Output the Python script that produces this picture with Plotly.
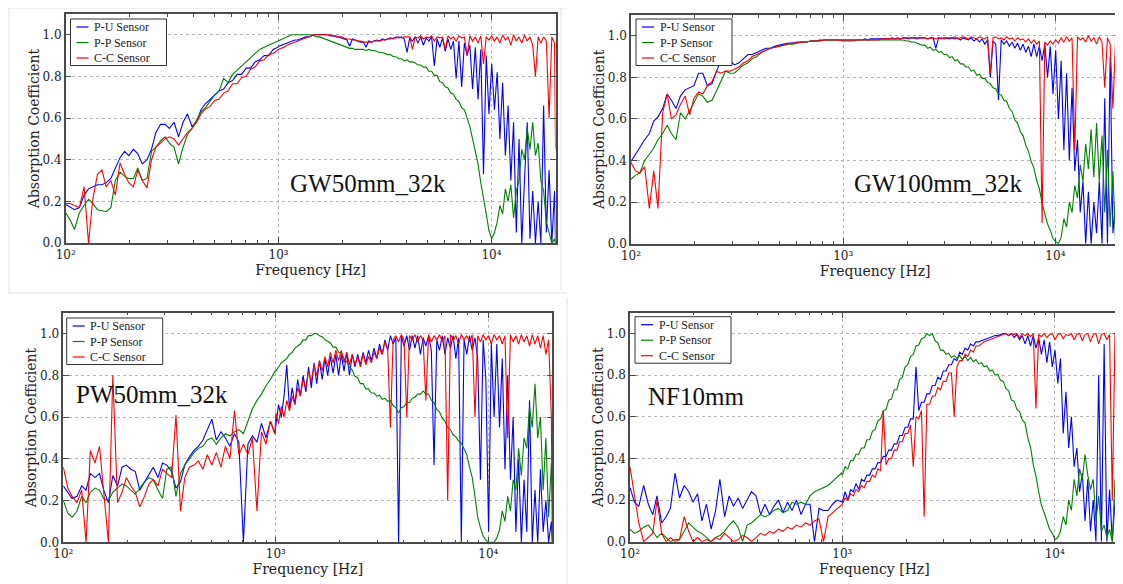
import plotly.graph_objects as go

# The page body keeps its default 8px margin, so the figure is drawn 8px in
# from the window corner; all pixel positions below are window pixels.
WIN_W, WIN_H, OFF = 1123, 584, 8
W, H = WIN_W - OFF, WIN_H - OFF

# ---------------- data ----------------
FREQ_HZ = [
    100, 105, 110, 116, 122, 128, 134, 141, 148, 155,
    163, 171, 180, 189, 198, 208, 218, 229, 241, 253,
    265, 279, 293, 307, 323, 339, 356, 373, 392, 412,
    432, 454, 476, 500, 525, 552, 579, 608, 639, 670,
    704, 739, 776, 815, 856, 899, 943, 991,
    1000, 1030, 1061, 1093, 1126, 1159, 1194, 1230, 1267, 1305,
    1344, 1384, 1426, 1469, 1513, 1558, 1605, 1653, 1702, 1754,
    1806, 1860, 1916, 1974, 2033, 2094, 2157, 2221, 2288, 2357,
    2427, 2500, 2575, 2652, 2732, 2814, 2898, 2985, 3075, 3167,
    3262, 3360, 3461, 3565, 3671, 3782, 3895, 4012, 4132, 4256,
    4384, 4515, 4651, 4790, 4934, 5082, 5235, 5392, 5553, 5720,
    5892, 6068, 6250, 6438, 6631, 6830, 7035, 7246, 7463, 7687,
    7918, 8155, 8400, 8652, 8912, 9179, 9454, 9738, 10030, 10331,
    10641, 10960, 11289, 11628, 11976, 12336, 12706, 13087, 13480, 13884,
    14300, 14730, 15171, 15627, 16095, 16578, 17076, 17588, 18115, 18659,
    19218, 19795, 20000]

SERIES_NAMES = ["P-U Sensor", "P-P Sensor", "C-C Sensor"]
PANEL_LABELS = ["GW50mm_32k", "GW100mm_32k", "PW50mm_32k", "NF10mm"]

GW50_PU = [
    0.185, 0.17, 0.16, 0.17, 0.23, 0.26, 0.27, 0.28, 0.28, 0.29,
    0.31, 0.36, 0.41, 0.44, 0.42, 0.45, 0.43, 0.38, 0.40, 0.45,
    0.53, 0.57, 0.57, 0.55, 0.58, 0.51, 0.58, 0.62, 0.56, 0.58,
    0.64, 0.67, 0.69, 0.71, 0.73, 0.74, 0.77, 0.78, 0.81, 0.81,
    0.84, 0.84, 0.87, 0.88, 0.90, 0.90, 0.93, 0.94,
    0.945, 0.95, 0.955, 0.96, 0.965, 0.97, 0.975, 0.975, 0.98, 0.985,
    0.99, 0.99, 0.995, 1.0, 1.0, 1.0, 1.0, 1.0, 1.0, 0.995,
    0.995, 0.99, 0.99, 0.985, 0.98, 0.975, 0.945, 0.98, 0.975, 0.97,
    0.965, 0.965, 0.94, 0.97, 0.965, 0.97, 0.975, 0.97, 0.98, 0.975,
    0.98, 0.985, 0.98, 0.99, 0.985, 0.99, 0.98, 0.915, 0.985, 0.97,
    0.99, 0.96, 0.99, 0.95, 0.985, 0.97, 0.99, 0.85, 0.98, 0.94,
    0.985, 0.92, 0.98, 0.93, 0.97, 0.79, 0.97, 0.75, 0.96, 0.90,
    0.95, 0.74, 0.94, 0.69, 0.93, 0.33, 0.90, 0.62, 0.86, 0.64,
    0.82, 0.50, 0.77, 0.42, 0.66, 0.30, 0.58, 0.05, 0.50, 0.0,
    0.30, 0.58, 0.02, 0.25, 0.0, 0.20, 0.0, 0.66, 0.05, 0.35,
    0.0, 0.25, 0.0]
GW50_PP = [
    0.145, 0.11, 0.065, 0.145, 0.18, 0.21, 0.19, 0.16, 0.155, 0.15,
    0.17, 0.30, 0.34, 0.32, 0.31, 0.31, 0.36, 0.30, 0.31, 0.44,
    0.46, 0.49, 0.51, 0.48, 0.46, 0.38, 0.46, 0.52, 0.55, 0.59,
    0.63, 0.65, 0.68, 0.71, 0.73, 0.79, 0.77, 0.81, 0.83, 0.85,
    0.87, 0.89, 0.91, 0.93, 0.94, 0.95, 0.96, 0.97,
    0.97, 0.98, 0.985, 0.99, 0.995, 1.0, 1.0, 1.0, 1.0, 1.0,
    1.0, 1.0, 1.0, 0.995, 0.99, 0.99, 0.985, 0.98, 0.975, 0.97,
    0.965, 0.96, 0.955, 0.95, 0.945, 0.94, 0.935, 0.935, 0.93, 0.93,
    0.93, 0.93, 0.925, 0.93, 0.925, 0.925, 0.92, 0.915, 0.915, 0.91,
    0.905, 0.905, 0.895, 0.895, 0.885, 0.885, 0.875, 0.88, 0.87, 0.87,
    0.865, 0.855, 0.855, 0.845, 0.845, 0.825, 0.825, 0.805, 0.805, 0.775,
    0.77, 0.75, 0.745, 0.72, 0.715, 0.69, 0.68, 0.65, 0.64, 0.60,
    0.56, 0.50, 0.44, 0.38, 0.29, 0.22, 0.14, 0.06, 0.02, 0.05,
    0.10, 0.18, 0.14, 0.26, 0.20, 0.28, 0.12, 0.25, 0.30, 0.45,
    0.40, 0.55, 0.45, 0.58, 0.42, 0.48, 0.30, 0.25, 0.10, 0.05,
    0.0, 0.02, 0.0]
GW50_CC = [
    0.19, 0.19, 0.18, 0.17, 0.27, 0.0, 0.21, 0.33, 0.35, 0.27,
    0.30, 0.23, 0.385, 0.33, 0.29, 0.27, 0.35, 0.30, 0.265, 0.40,
    0.46, 0.48, 0.50, 0.51, 0.50, 0.47, 0.50, 0.53, 0.55, 0.58,
    0.62, 0.645, 0.655, 0.685, 0.69, 0.72, 0.73, 0.765, 0.765, 0.795,
    0.80, 0.835, 0.845, 0.875, 0.88, 0.905, 0.91, 0.93,
    0.93, 0.935, 0.94, 0.95, 0.955, 0.96, 0.965, 0.97, 0.975, 0.98,
    0.985, 0.99, 0.995, 1.0, 1.0, 1.0, 1.0, 1.0, 1.0, 1.0,
    0.995, 0.995, 0.99, 0.99, 0.985, 0.98, 0.98, 0.975, 0.975, 0.97,
    0.97, 0.965, 0.965, 0.965, 0.965, 0.97, 0.97, 0.97, 0.975, 0.975,
    0.98, 0.98, 0.985, 0.985, 0.99, 0.985, 0.99, 0.99, 0.99, 0.93,
    0.99, 0.985, 0.995, 0.98, 0.99, 0.985, 0.995, 0.97, 0.99, 0.985,
    0.99, 0.93, 0.995, 0.98, 0.99, 0.97, 0.995, 0.985, 0.99, 0.90,
    0.995, 0.97, 0.99, 0.96, 0.995, 0.86, 0.99, 0.975, 0.995, 0.97,
    0.99, 0.96, 1.0, 0.975, 0.99, 0.95, 1.0, 0.97, 0.99, 0.96,
    1.0, 0.97, 0.99, 0.95, 0.80, 0.99, 0.96, 0.99, 0.97, 0.60,
    0.99, 0.96, 0.45]

GW100_PU = [
    0.395, 0.43, 0.46, 0.50, 0.53, 0.59, 0.61, 0.65, 0.72, 0.69,
    0.65, 0.71, 0.74, 0.75, 0.76, 0.82, 0.82, 0.76, 0.77, 0.83,
    0.88, 0.89, 0.88, 0.86, 0.87, 0.89, 0.91, 0.91, 0.92, 0.93,
    0.94, 0.94, 0.95, 0.955, 0.96, 0.965, 0.965, 0.97, 0.97, 0.97,
    0.975, 0.975, 0.98, 0.98, 0.98, 0.98, 0.98, 0.98,
    0.98, 0.98, 0.98, 0.98, 0.98, 0.98, 0.98, 0.98, 0.985, 0.98,
    0.985, 0.985, 0.985, 0.985, 0.985, 0.985, 0.985, 0.985, 0.99, 0.985,
    0.99, 0.985, 0.99, 0.99, 0.985, 0.99, 0.99, 0.985, 0.99, 0.99,
    0.99, 0.985, 0.99, 0.99, 0.94, 0.99, 0.985, 0.99, 0.99, 0.985,
    0.99, 0.985, 0.99, 0.98, 0.99, 0.985, 0.98, 0.99, 0.975, 0.985,
    0.97, 0.985, 0.96, 0.98, 0.80, 0.975, 0.96, 0.69, 0.98, 0.96,
    0.975, 0.95, 0.97, 0.94, 0.965, 0.93, 0.96, 0.92, 0.95, 0.90,
    0.96, 0.90, 0.95, 0.88, 0.96, 0.80, 0.95, 0.72, 0.93, 0.60,
    0.88, 0.45, 0.82, 0.40, 0.75, 0.35, 0.50, 0.15, 0.30, 0.0,
    0.25, 0.0, 0.20, 0.05, 0.30, 0.0, 0.70, 0.0, 0.90, 0.05,
    0.20, 0.0, 0.15]
GW100_PP = [
    0.31, 0.33, 0.34, 0.40, 0.43, 0.46, 0.50, 0.53, 0.57, 0.53,
    0.50, 0.63, 0.60, 0.64, 0.68, 0.72, 0.71, 0.68, 0.69, 0.74,
    0.78, 0.83, 0.82, 0.82, 0.84, 0.86, 0.87, 0.89, 0.90, 0.92,
    0.93, 0.94, 0.945, 0.95, 0.955, 0.96, 0.96, 0.965, 0.97, 0.97,
    0.975, 0.975, 0.975, 0.98, 0.98, 0.98, 0.98, 0.98,
    0.98, 0.98, 0.98, 0.98, 0.98, 0.98, 0.98, 0.98, 0.98, 0.98,
    0.98, 0.98, 0.98, 0.98, 0.98, 0.98, 0.98, 0.98, 0.98, 0.98,
    0.98, 0.98, 0.98, 0.975, 0.975, 0.97, 0.97, 0.965, 0.96, 0.955,
    0.955, 0.94, 0.945, 0.93, 0.935, 0.92, 0.925, 0.91, 0.91, 0.895,
    0.90, 0.88, 0.885, 0.865, 0.865, 0.85, 0.85, 0.83, 0.835, 0.81,
    0.815, 0.795, 0.795, 0.775, 0.77, 0.75, 0.745, 0.72, 0.715, 0.69,
    0.685, 0.65, 0.635, 0.595, 0.58, 0.54, 0.52, 0.475, 0.445, 0.395,
    0.365, 0.305, 0.265, 0.195, 0.145, 0.095, 0.065, 0.025, 0.01, 0.0,
    0.03, 0.12, 0.08, 0.20, 0.15, 0.28, 0.22, 0.38, 0.30, 0.48,
    0.36, 0.55, 0.32, 0.58, 0.30, 0.52, 0.15, 0.45, 0.08, 0.35,
    0.0, 0.28, 0.05]
GW100_CC = [
    0.39, 0.35, 0.34, 0.37, 0.17, 0.35, 0.17, 0.63, 0.72, 0.60,
    0.62, 0.67, 0.71, 0.62, 0.70, 0.73, 0.72, 0.76, 0.78, 0.83,
    0.82, 0.83, 0.83, 0.84, 0.85, 0.87, 0.88, 0.90, 0.91, 0.92,
    0.93, 0.94, 0.945, 0.95, 0.955, 0.96, 0.965, 0.965, 0.97, 0.97,
    0.975, 0.975, 0.975, 0.98, 0.98, 0.98, 0.98, 0.975,
    0.975, 0.975, 0.975, 0.975, 0.975, 0.98, 0.98, 0.98, 0.98, 0.98,
    0.98, 0.98, 0.98, 0.98, 0.985, 0.985, 0.985, 0.985, 0.985, 0.985,
    0.985, 0.985, 0.99, 0.99, 0.99, 0.99, 0.99, 0.99, 0.99, 0.99,
    0.99, 0.985, 0.99, 0.99, 0.985, 0.99, 0.99, 0.985, 0.99, 0.99,
    0.99, 0.995, 0.985, 0.99, 0.995, 0.99, 0.985, 0.995, 0.99, 0.985,
    0.995, 0.99, 0.985, 0.995, 0.82, 0.99, 0.995, 0.985, 0.99, 0.98,
    0.995, 0.985, 0.99, 0.975, 0.99, 0.98, 0.985, 0.97, 0.985, 0.965,
    0.98, 0.96, 0.975, 0.10, 0.97, 0.955, 0.975, 0.96, 0.98, 0.965,
    0.99, 0.97, 0.995, 0.975, 0.99, 0.45, 0.995, 0.98, 0.99, 0.97,
    1.0, 0.975, 0.99, 0.96, 0.995, 0.97, 0.75, 0.99, 0.96, 0.65,
    0.99, 0.97, 0.99]

PW50_PU = [
    0.27, 0.24, 0.21, 0.22, 0.27, 0.25, 0.33, 0.31, 0.33, 0.25,
    0.19, 0.32, 0.27, 0.36, 0.37, 0.35, 0.34, 0.25, 0.29, 0.33,
    0.36, 0.31, 0.38, 0.37, 0.34, 0.26, 0.29, 0.37, 0.41, 0.44,
    0.46, 0.49, 0.54, 0.59, 0.49, 0.53, 0.50, 0.46, 0.52, 0.48,
    0.0, 0.47, 0.51, 0.48, 0.57, 0.50, 0.58, 0.52,
    0.56, 0.66, 0.60, 0.70, 0.85, 0.64, 0.74, 0.66, 0.78, 0.70,
    0.80, 0.72, 0.84, 0.74, 0.86, 0.76, 0.87, 0.78, 0.88, 0.80,
    0.89, 0.81, 0.90, 0.80, 0.90, 0.82, 0.91, 0.80, 0.90, 0.84,
    0.90, 0.85, 0.91, 0.86, 0.92, 0.87, 0.93, 0.88, 0.95, 0.90,
    0.97, 0.92, 0.99, 0.95, 0.98, 0.0, 0.99, 0.94, 0.99, 0.92,
    0.99, 0.93, 0.99, 0.90, 0.98, 0.94, 0.99, 0.92, 0.37, 0.97,
    0.92, 0.99, 0.90, 0.98, 0.93, 0.99, 0.88, 0.98, 0.0, 0.97,
    0.90, 0.99, 0.92, 0.98, 0.88, 0.30, 0.97, 0.78, 0.05, 0.95,
    0.60, 0.95, 0.55, 0.88, 0.35, 0.80, 0.30, 0.60, 0.05, 0.40,
    0.0, 0.30, 0.05, 0.68, 0.0, 0.25, 0.0, 0.35, 0.05, 0.20,
    0.0, 0.10, 0.0]
PW50_PP = [
    0.20, 0.14, 0.12, 0.15, 0.22, 0.19, 0.24, 0.26, 0.25, 0.21,
    0.20, 0.24, 0.26, 0.28, 0.27, 0.25, 0.23, 0.26, 0.29, 0.31,
    0.30, 0.25, 0.21, 0.35, 0.36, 0.22, 0.33, 0.37, 0.40, 0.43,
    0.45, 0.46, 0.49, 0.50, 0.47, 0.50, 0.52, 0.51, 0.53, 0.54,
    0.52, 0.58, 0.64, 0.68, 0.71, 0.75, 0.78, 0.82,
    0.82, 0.84, 0.86, 0.87, 0.88, 0.90, 0.91, 0.93, 0.94, 0.95,
    0.97, 0.97, 0.99, 0.99, 1.0, 1.0, 0.99, 0.985, 0.97, 0.965,
    0.955, 0.935, 0.935, 0.91, 0.905, 0.88, 0.865, 0.84, 0.825, 0.795,
    0.79, 0.76, 0.76, 0.735, 0.735, 0.715, 0.715, 0.70, 0.705, 0.685,
    0.69, 0.675, 0.68, 0.655, 0.645, 0.62, 0.645, 0.65, 0.67, 0.67,
    0.69, 0.695, 0.71, 0.71, 0.725, 0.71, 0.71, 0.68, 0.67, 0.635,
    0.625, 0.595, 0.58, 0.55, 0.54, 0.515, 0.505, 0.485, 0.475, 0.445,
    0.42, 0.36, 0.31, 0.22, 0.12, 0.07, 0.03, 0.01, 0.0, 0.0,
    0.0, 0.02, 0.06, 0.15, 0.10, 0.22, 0.15, 0.30, 0.25, 0.45,
    0.32, 0.50, 0.45, 0.65, 0.55, 0.76, 0.50, 0.60, 0.25, 0.50,
    0.12, 0.38, 0.20]
PW50_CC = [
    0.36, 0.26, 0.22, 0.19, 0.25, 0.0, 0.44, 0.38, 0.46, 0.22,
    0.0, 0.80, 0.19, 0.24, 0.31, 0.27, 0.24, 0.17, 0.22, 0.28,
    0.30, 0.27, 0.35, 0.33, 0.31, 0.61, 0.15, 0.31, 0.36, 0.37,
    0.39, 0.35, 0.42, 0.37, 0.43, 0.36, 0.46, 0.40, 0.63, 0.42,
    0.47, 0.42, 0.50, 0.15, 0.53, 0.47, 0.58, 0.52,
    0.62, 0.57, 0.65, 0.60, 0.68, 0.63, 0.70, 0.66, 0.74, 0.70,
    0.78, 0.74, 0.82, 0.77, 0.85, 0.80, 0.87, 0.82, 0.89, 0.84,
    0.91, 0.86, 0.92, 0.87, 0.92, 0.86, 0.91, 0.85, 0.90, 0.85,
    0.89, 0.84, 0.90, 0.85, 0.89, 0.86, 0.91, 0.88, 0.93, 0.90,
    0.96, 0.93, 0.55, 0.97, 0.99, 0.96, 0.995, 0.97, 0.60, 0.99,
    0.97, 0.995, 0.96, 0.99, 0.97, 0.68, 0.995, 0.96, 0.99, 0.97,
    0.995, 0.96, 0.99, 0.20, 0.995, 0.97, 0.99, 0.95, 0.995, 0.97,
    0.99, 0.96, 0.995, 0.60, 0.99, 0.96, 0.995, 0.97, 0.99, 0.95,
    0.995, 0.97, 0.99, 0.95, 0.99, 0.50, 0.995, 0.96, 0.99, 0.95,
    0.995, 0.96, 0.99, 0.94, 0.995, 0.95, 0.99, 0.93, 0.99, 0.90,
    0.97, 0.60, 0.0]

NF10_PU = [
    0.26, 0.19, 0.17, 0.27, 0.18, 0.13, 0.22, 0.09, 0.12, 0.16,
    0.33, 0.21, 0.27, 0.24, 0.19, 0.23, 0.10, 0.18, 0.06, 0.15,
    0.30, 0.12, 0.22, 0.17, 0.21, 0.16, 0.20, 0.24, 0.22, 0.13,
    0.18, 0.13, 0.17, 0.20, 0.14, 0.19, 0.15, 0.20, 0.13, 0.18,
    0.18, 0.0, 0.16, 0.15, 0.15, 0.18, 0.20, 0.19,
    0.19, 0.24, 0.20, 0.25, 0.24, 0.28, 0.25, 0.30, 0.29, 0.32,
    0.32, 0.35, 0.35, 0.38, 0.38, 0.41, 0.41, 0.44, 0.44, 0.47,
    0.47, 0.51, 0.51, 0.55, 0.55, 0.59, 0.59, 0.84, 0.63, 0.67,
    0.67, 0.71, 0.71, 0.75, 0.75, 0.79, 0.78, 0.82, 0.82, 0.85,
    0.85, 0.88, 0.87, 0.91, 0.90, 0.93, 0.92, 0.95, 0.94, 0.96,
    0.96, 0.965, 0.97, 0.975, 0.98, 0.985, 0.99, 0.99, 0.995, 1.0,
    1.0, 0.99, 1.0, 0.98, 0.995, 0.97, 0.99, 0.95, 0.99, 0.94,
    0.99, 0.93, 0.98, 0.90, 0.97, 0.86, 0.96, 0.84, 0.92, 0.76,
    0.88, 0.52, 0.72, 0.45, 0.60, 0.36, 0.45, 0.24, 0.33, 0.10,
    0.30, 0.05, 0.20, 0.0, 0.80, 0.0, 0.95, 0.0, 0.25, 0.0,
    0.20, 0.0, 0.10]
NF10_PP = [
    0.06, 0.04, 0.05, 0.07, 0.08, 0.05, 0.02, 0.04, 0.02, 0.0,
    0.01, 0.01, 0.05, 0.09, 0.07, 0.05, 0.04, 0.02, 0.0, 0.02,
    0.03, 0.05, 0.08, 0.10, 0.07, 0.0, 0.08, 0.09, 0.11, 0.13,
    0.12, 0.13, 0.15, 0.16, 0.14, 0.15, 0.19, 0.18, 0.19, 0.18,
    0.22, 0.24, 0.25, 0.26, 0.27, 0.29, 0.31, 0.33,
    0.32, 0.36, 0.35, 0.39, 0.39, 0.42, 0.42, 0.45, 0.45, 0.49,
    0.49, 0.53, 0.54, 0.58, 0.59, 0.63, 0.635, 0.68, 0.685, 0.73,
    0.73, 0.78, 0.79, 0.84, 0.85, 0.89, 0.90, 0.94, 0.945, 0.975,
    0.98, 1.0, 0.99, 1.0, 0.965, 0.955, 0.92, 0.92, 0.90, 0.905,
    0.885, 0.895, 0.88, 0.895, 0.875, 0.89, 0.87, 0.885, 0.865, 0.875,
    0.855, 0.86, 0.84, 0.845, 0.82, 0.825, 0.80, 0.805, 0.775, 0.77,
    0.735, 0.725, 0.68, 0.675, 0.635, 0.625, 0.585, 0.57, 0.50, 0.455,
    0.37, 0.315, 0.24, 0.175, 0.14, 0.10, 0.06, 0.04, 0.01, 0.02,
    0.05, 0.12, 0.08, 0.20, 0.15, 0.30, 0.22, 0.35, 0.30, 0.42,
    0.32, 0.25, 0.30, 0.10, 0.22, 0.05, 0.08, 0.02, 0.06, 0.0,
    0.30, 0.05, 0.0]
NF10_CC = [
    0.36, 0.22, 0.09, 0.0, 0.02, 0.04, 0.20, 0.04, 0.0, 0.02,
    0.0, 0.01, 0.12, 0.05, 0.0, 0.02, 0.0, 0.01, 0.0, 0.02,
    0.01, 0.04, 0.02, 0.0, 0.01, 0.03, 0.02, 0.0, 0.02, 0.04,
    0.03, 0.05, 0.04, 0.06, 0.05, 0.07, 0.06, 0.08, 0.07, 0.09,
    0.08, 0.10, 0.11, 0.0, 0.12, 0.14, 0.16, 0.18,
    0.18, 0.21, 0.20, 0.23, 0.22, 0.25, 0.24, 0.27, 0.26, 0.29,
    0.29, 0.32, 0.31, 0.35, 0.34, 0.63, 0.37, 0.40, 0.40, 0.44,
    0.44, 0.48, 0.48, 0.52, 0.52, 0.56, 0.36, 0.60, 0.59, 0.63,
    0.12, 0.66, 0.66, 0.70, 0.70, 0.74, 0.73, 0.77, 0.77, 0.81,
    0.81, 0.60, 0.84, 0.87, 0.87, 0.90, 0.89, 0.92, 0.91, 0.94,
    0.94, 0.95, 0.96, 0.965, 0.97, 0.975, 0.98, 0.985, 0.99, 0.995,
    1.0, 0.99, 1.0, 0.995, 1.0, 0.98, 1.0, 0.99, 1.0, 0.985,
    1.0, 0.64, 0.995, 0.985, 1.0, 0.98, 0.995, 1.0, 0.97, 0.995,
    1.0, 0.975, 0.995, 0.99, 1.0, 0.97, 0.995, 1.0, 0.965, 0.995,
    1.0, 0.96, 0.995, 1.0, 0.95, 0.995, 1.0, 0.97, 0.995, 0.20,
    1.0, 0.35, 0.97]

# ---------------- styling / layout ----------------
COLORS = ["#0000ff", "#008000", "#ff0000"]
FRAME = "#4a4a4a"
SERIF = "DejaVu Serif, Liberation Serif, serif"
TIMES = "Liberation Serif, Times New Roman, serif"

# plot boxes in window pixels (left, top, right, bottom), legend top-left, label centre
PANELS = [
    dict(data=[GW50_PU, GW50_PP, GW50_CC], box=(65.7, 14, 555.5, 243), leg=(70.5, 19), txt=(367.5, 183)),
    dict(data=[GW100_PU, GW100_PP, GW100_CC], box=(631, 15, 1119.3, 243.7), leg=(636, 19), txt=(939, 183)),
    dict(data=[PW50_PU, PW50_PP, PW50_CC], box=(63.3, 312.7, 552.3, 542.3), leg=(66.7, 318), txt=(151.7, 394)),
    dict(data=[NF10_PU, NF10_PP, NF10_CC], box=(630, 312.7, 1118.7, 541.7), leg=(635, 316.7), txt=(695.7, 396.5)),
]

for p in PANELS:
    for ys in p["data"]:
        if len(ys) != len(FREQ_HZ):
            raise ValueError(f"length mismatch {len(ys)} vs {len(FREQ_HZ)}")

MINOR_X = [m * 10 ** e for e in (2, 3) for m in range(2, 10)] + [20000]


def px(x):
    return (x - OFF) / W


def py(y):
    return 1 - (y - OFF) / H


fig = go.Figure()
layout = {}
annotations = []
shapes = []
for i, p in enumerate(PANELS):
    k = "" if i == 0 else str(i + 1)
    for name, ys, col in zip(SERIES_NAMES, p["data"], COLORS):
        fig.add_trace(go.Scatter(
            x=FREQ_HZ, y=ys, mode="lines", name=name,
            line=dict(color=col, width=1.1),
            xaxis="x" + k, yaxis="y" + k, showlegend=False,
        ))
    x0, y0, x1, y1 = p["box"]
    common = dict(
        ticks="inside", ticklen=6, tickwidth=1, tickcolor=FRAME,
        showline=True, linecolor=FRAME, linewidth=1.5, mirror="ticks",
        showgrid=True, gridcolor="#b4b4b4", griddash="dot", gridwidth=1,
        tickfont=dict(family=SERIF, size=12, color="#222"),
        zeroline=False, fixedrange=True, automargin=False,
    )
    layout["xaxis" + k] = dict(
        type="log", range=[2, 4.301], domain=[px(x0), px(x1)], anchor="y" + k,
        tickvals=[100, 1000, 10000], ticktext=["10²", "10³", "10⁴"],
        minor=dict(tickvals=MINOR_X, ticks="inside", ticklen=3, tickwidth=1,
                   tickcolor=FRAME, showgrid=False),
        title=dict(text="Frequency [Hz]", standoff=1,
                   font=dict(family=SERIF, size=14, color="#222")),
        **common,
    )
    layout["yaxis" + k] = dict(
        range=[0, 1.1], domain=[py(y1), py(y0)], anchor="x" + k,
        tickvals=[0, 0.2, 0.4, 0.6, 0.8, 1.0], tickformat=".1f",
        title=dict(text="Absorption Coefficient", standoff=0,
                   font=dict(family=SERIF, size=14, color="#222")),
        **common,
    )

    # legend box drawn in the top-left corner of each panel
    lx, ly = p["leg"]
    shapes.append(dict(type="rect", xref="paper", yref="paper",
                       x0=px(lx), y0=py(ly + 46.5), x1=px(lx + 96), y1=py(ly),
                       fillcolor="white", line=dict(color="#333", width=1)))
    for j, (name, col) in enumerate(zip(SERIES_NAMES, COLORS)):
        yy = ly + 8 + 15.5 * j
        shapes.append(dict(type="line", xref="paper", yref="paper",
                           x0=px(lx + 6), y0=py(yy), x1=px(lx + 18), y1=py(yy),
                           line=dict(color=col, width=1.2)))
        annotations.append(dict(
            text=name, x=px(lx + 21.5), y=py(yy), xref="paper", yref="paper",
            xanchor="left", yanchor="middle", showarrow=False,
            font=dict(family=TIMES, size=12, color="#222"),
        ))

    tx, ty = p["txt"]
    annotations.append(dict(
        text=PANEL_LABELS[i], x=px(tx), y=py(ty), xref="paper", yref="paper",
        xanchor="center", yanchor="middle", showarrow=False,
        font=dict(family=TIMES, size=25, color="#111"),
    ))


# faint frames of the original screenshot tiles
def seg(xa, ya, xb, yb):
    return dict(type="line", xref="paper", yref="paper",
                x0=px(xa), y0=py(ya), x1=px(xb), y1=py(yb),
                line=dict(color="#e2e2e2", width=1), layer="below")


shapes += [
    seg(9, 8, 565, 8), seg(9, 8, 9, 293), seg(8, 293, 567, 293),
    seg(561, 8, 561, 290),
    seg(567, 298, 567, 584),
]

fig.update_layout(
    width=W, height=H, margin=dict(l=0, r=0, t=0, b=0),
    paper_bgcolor="white", plot_bgcolor="white",
    font=dict(family=SERIF, color="#222"),
    showlegend=False, annotations=annotations, shapes=shapes,
    **layout,
)

fig.write_html("out.html")
